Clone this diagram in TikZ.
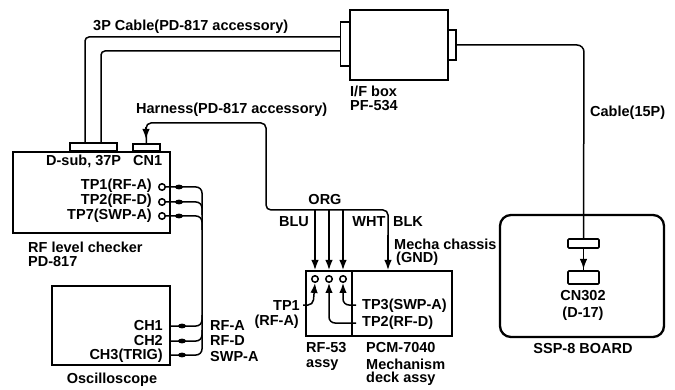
\documentclass[tikz,border=0pt]{standalone}
\usepackage{fontspec}
\setmainfont{Liberation Sans}
\usetikzlibrary{arrows.meta}
\tikzset{
  box/.style={draw,line width=2.3pt,inner sep=0,rectangle},
  conn/.style={draw,line width=1.7pt,fill=white,rectangle,inner sep=0},
  wire/.style={line width=1.5pt,rounded corners=4pt},
  tip/.style={-{Latex[length=10pt,width=7.5pt]}},
  hole/.style={circle,draw,line width=1.5pt,fill=white,minimum size=6.5pt,inner sep=0},
  lab/.style={font=\fontsize{14.5}{15}\selectfont\bfseries,inner sep=0,anchor=west},
  labr/.style={lab,anchor=east},
  labc/.style={lab,anchor=center}
}
\begin{document}
\begin{tikzpicture}[x=1pt,y=-1pt]
\useasboundingbox (0,0) rectangle (675,390);
\fill[white] (0,0) rectangle (675,390);
% boxes
\node[box,minimum width=157pt,minimum height=81pt] (rf) at (91.5,192.5) {};
\node[conn,minimum width=47pt,minimum height=8pt] (dsub) at (93.5,147) {};
\node[conn,minimum width=27pt,minimum height=7pt] (cn1) at (146.5,147.5) {};
\node[box,minimum width=118pt,minimum height=79pt] (osc) at (111,325.5) {};
\node[box,minimum width=98pt,minimum height=70pt] (ifb) at (399,45) {};
\node[conn,minimum width=9pt,minimum height=44pt] (ifl) at (345,44) {};
\node[conn,minimum width=8pt,minimum height=30pt] (ifr) at (452,45) {};
\node[box,minimum width=146pt,minimum height=65pt] (mech) at (379,303.5) {};
\node[box,minimum width=164pt,minimum height=122pt,rounded corners=11pt] (ssp) at (582,276) {};
\node[conn,minimum width=31pt,minimum height=9pt,rounded corners=1pt] (plug) at (583.5,243.5) {};
\node[conn,minimum width=31pt,minimum height=13pt,rounded corners=1pt] (sock) at (583.5,277.5) {};
% divider in mech box
\coordinate (d1) at (352,271); \coordinate (d2) at (352,336);
\draw[line width=1.5pt] (d1) -- (d2);
% cables 3P
\coordinate (c1a) at (85,143); \coordinate (c1b) at (101,143);
\coordinate (c1c) at (340.5,37); \coordinate (c1d) at (340.5,51);
\draw[wire] (c1a) -- (85,37) -- (c1c);
\draw[wire] (c1b) -- (101,51) -- (c1d);
% cable 15P
\draw[wire,rounded corners=7pt] (ifr.east) -- (584,45) -- (plug.north);
\draw[line width=1.5pt] (plug.south) -- (sock.north);
\draw[line width=1.5pt,tip] (583.5,250) -- (583.5,269);
% harness
\draw[wire,rounded corners=5pt] (cn1.north) -- (146,123) -- (266,123) -- (266,210) -- (388,210) -- (388,240);
\draw[line width=1.5pt,tip] (146,127) -- (146,139);
\coordinate (b1) at (315,210); \coordinate (b2) at (329,210); \coordinate (b3) at (343,210); \coordinate (b4) at (388,235);
\coordinate (e1) at (315,270); \coordinate (e2) at (329,270); \coordinate (e3) at (343,270); \coordinate (e4) at (388,270);
\draw[line width=1.5pt,tip] (b1) -- (e1);
\draw[line width=1.5pt,tip] (b2) -- (e2);
\draw[line width=1.5pt,tip] (b3) -- (e3);
\draw[line width=1.5pt,tip] (b4) -- (e4);
\node[hole] (h1) at (315,279) {};
\node[hole] (h2) at (329,279) {};
\node[hole] (h3) at (343,279) {};
% probes in mech box
\draw[wire,tip,rounded corners=5pt] (303,305) -- (313,305) -- (315,283);
\draw[wire,tip,rounded corners=6pt] (356,323) -- (329,323) -- (329,283);
\draw[wire,tip,rounded corners=6pt] (356,305) -- (343,305) -- (343,283);
% TP holes on RF checker
\node[hole] (t1) at (162,187) {};
\node[hole] (t2) at (162,202) {};
\node[hole] (t7) at (162,216) {};
\draw[wire,rounded corners=6pt] (t1.east) -- (202,187) -- (202,355) -- (170,355);
\draw[wire,rounded corners=6pt] (t2.east) -- (202,202) -- (202,215);
\draw[wire,rounded corners=6pt] (t7.east) -- (202,216) -- (202,230);
\draw[wire,rounded corners=6pt] (170,326) -- (202,326) -- (202,315);
\draw[wire,rounded corners=6pt] (170,341) -- (202,341) -- (202,330);
% probe blobs
\foreach \y in {187,202,216}{\fill (179,\y) circle[x radius=4pt,y radius=2.4pt];}
\foreach \y in {326,341,355}{\fill (182,\y) circle[x radius=4pt,y radius=2.4pt];}
% labels
\node[lab] (l1) at (93,27) {3P Cable(PD-817 accessory)};
\node[lab] (l2) at (136,110) {Harness(PD-817 accessory)};
\node[lab] (l3) at (46,161) {D-sub, 37P};
\node[lab] (l4) at (133,161) {CN1};
\node[labr] (l5) at (152,186) {TP1(RF-A)};
\node[labr] (l6) at (152,201) {TP2(RF-D)};
\node[labr] (l7) at (152,216) {TP7(SWP-A)};
\node[lab] (l8) at (28,247) {RF level checker};
\node[lab] (l9) at (28,262) {PD-817};
\node[labr] (l10) at (163,326) {CH1};
\node[labr] (l11) at (163,341) {CH2};
\node[labr] (l12) at (163,356) {CH3(TRIG)};
\node[labc] (l13) at (112,380) {Oscilloscope};
\node[lab] (l14) at (210,326) {RF-A};
\node[lab] (l15) at (210,341) {RF-D};
\node[lab] (l16) at (210,357) {SWP-A};
\node[lab] (l17) at (350,91) {I/F box};
\node[lab] (l18) at (350,106) {PF-534};
\node[lab] (l19) at (590,113) {Cable(15P)};
\node[labc] (l20) at (325,200) {ORG};
\node[labc] (l21) at (294,222) {BLU};
\node[labc] (l22) at (369,222) {WHT};
\node[labc] (l23) at (408,222) {BLK};
\node[lab] (l24) at (394,244) {Mecha chassis};
\node[lab] (l25) at (396,259) {(GND)};
\node[labr] (l26) at (300,306) {TP1};
\node[labr] (l27) at (299,322) {(RF-A)};
\node[lab] (l28) at (362,306) {TP3(SWP-A)};
\node[lab] (l29) at (362,323) {TP2(RF-D)};
\node[lab] (l30) at (306,348) {RF-53};
\node[lab] (l31) at (306,365) {assy};
\node[lab] (l32) at (366,348) {PCM-7040};
\node[lab] (l33) at (366,364) {Mechanism};
\node[lab] (l34) at (366,379) {deck assy};
\node[labc] (l35) at (583,296) {CN302};
\node[labc] (l36) at (583,314) {(D-17)};
\node[labc] (l37) at (583,349) {SSP-8 BOARD};
\end{tikzpicture}
\end{document}
